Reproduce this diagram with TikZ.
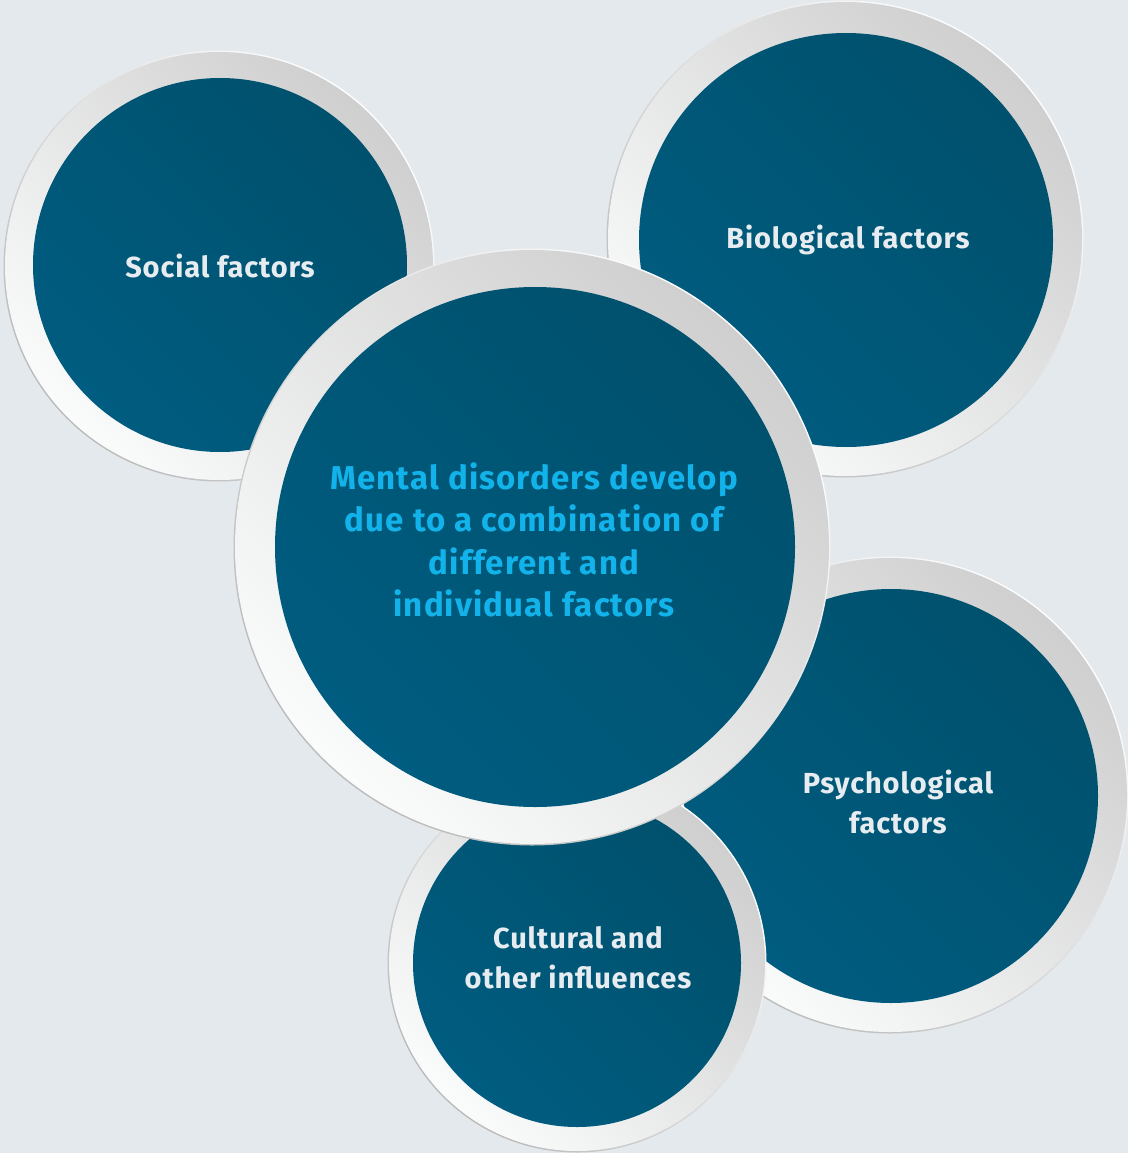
\documentclass[tikz,border=0pt]{standalone}
\usepackage{fontspec}
\setmainfont{Fira Sans}
\definecolor{bgcol}{HTML}{E4E9ED}
\definecolor{ringdark}{HTML}{CFCFCF}
\definecolor{ringlight}{HTML}{FAFBFB}
\definecolor{rimgray}{HTML}{BABABA}
\definecolor{discdark}{HTML}{00516D}
\definecolor{disclight}{HTML}{005C80}
\definecolor{labelcol}{HTML}{E6ECF0}
\definecolor{keycol}{HTML}{12B3EA}
\tikzset{
  rim/.style={circle, inner sep=0pt, minimum size=#1+3pt,
    top color=white, bottom color=rimgray, shading angle=-45},
  ring/.style={circle, inner sep=0pt, minimum size=#1,
    top color=ringdark, bottom color=ringlight, shading angle=-45},
  disc/.style={circle, inner sep=0pt, minimum size=#1,
    top color=discdark, bottom color=disclight, shading angle=-45},
  factor/.style={text=labelcol, align=center, inner sep=0pt,
    font=\bfseries\fontsize{29}{40}\selectfont\addfontfeatures{LetterSpace=3}},
  keytext/.style={text=keycol, align=center, inner sep=0pt,
    font=\bfseries\fontsize{33}{42.5}\selectfont\addfontfeatures{LetterSpace=3.5}},
}
\begin{document}
\begin{tikzpicture}[x=1pt,y=-1pt]
  \fill[bgcol] (0,0) rectangle (1128,1153);
  \useasboundingbox (0,0) rectangle (1128,1153);

  % social factors
  \node[rim=428pt]  (socialrim)  at (219,266) {};
  \node[ring=428pt] (socialring) at (219,266) {};
  \node[disc=374pt] (social)     at (220,265) {};
  \node[factor] (socialtext) at (220,266) {Social factors};

  % biological factors
  \node[rim=474pt]  (biorim)  at (845,239) {};
  \node[ring=474pt] (bioring) at (845,239) {};
  \node[disc=414pt] (bio)     at (846,240) {};
  \node[factor] (biotext) at (848,240) {Biological factors};

  % psychological factors
  \node[rim=474pt]  (psychrim)  at (890,795) {};
  \node[ring=474pt] (psychring) at (890,795) {};
  \node[disc=414pt] (psych)     at (891,796) {};
  \node[factor] (psychtext) at (898,802) {Psychological\\factors};

  % cultural and other influences
  \node[rim=376pt]  (culturerim)  at (577,963) {};
  \node[ring=376pt] (culturering) at (577,963) {};
  \node[disc=328pt] (culture)     at (577,963) {};
  \node[factor] (culturetext) at (578,958) {Cultural and\\other influences};

  % central statement
  \node[rim=594pt]  (corerim)  at (532,547) {};
  \node[ring=594pt] (corering) at (532,547) {};
  \node[disc=520pt] (core)     at (535,547) {};
  \node[keytext] (coretext) at (534,540) {Mental disorders develop\\due to a combination of\\different and\\individual factors};
\end{tikzpicture}
\end{document}
